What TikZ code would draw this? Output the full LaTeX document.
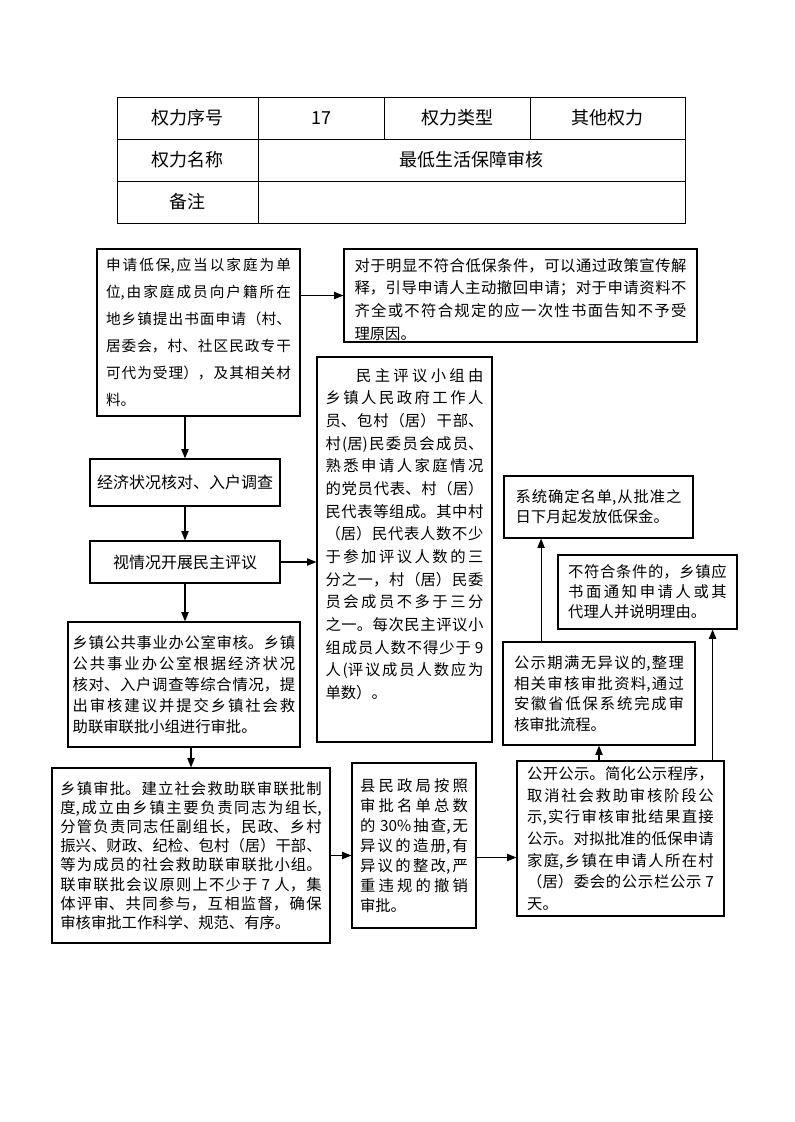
\documentclass[tikz,border=0pt]{standalone}
\usepackage{fontspec}
\setmainfont{Noto Sans CJK SC}
\usetikzlibrary{arrows.meta, positioning, calc}
\XeTeXlinebreaklocale "zh"
\XeTeXlinebreakskip=0pt plus 2pt

\begin{document}
\begin{tikzpicture}[x=0.75pt, y=-0.75pt,
  cell/.style={draw, line width=0.6pt, minimum height=31.5pt, inner sep=0pt, font=\fontsize{13.5}{16}\selectfont},
  flowbox/.style={draw, line width=0.9pt, inner sep=0pt, align=justify},
  arr/.style={-{Triangle[length=7pt, width=5.5pt]}, line width=0.8pt}]
  \useasboundingbox (0,0) rectangle (794,1122);

  % Table
  \node[cell, minimum width=105.75pt] (numlabel) at (187.5,118) {权力序号};
  \node[cell, minimum width=94.5pt] (num) at (321,118) {17};
  \node[cell, minimum width=109.5pt] (typelabel) at (457,118) {权力类型};
  \node[cell, minimum width=116.25pt] (type) at (607.5,118) {其他权力};
  \node[cell, minimum width=105.75pt] (namelabel) at (187.5,160) {权力名称};
  \node[cell, minimum width=320.25pt] (name) at (471.5,160) {最低生活保障审核};
  \node[cell, minimum width=105.75pt] (notelabel) at (187.5,202) {备注};
  \node[cell, minimum width=320.25pt] (note) at (471.5,202) {};

  % Application
  \node[flowbox, minimum width=152.25pt, minimum height=125.25pt, text width=138.75pt, font=\fontsize{11}{20.25}\selectfont] (apply) at (198.5,332.5) {
    申请低保,应当以家庭为单\linebreak
    位,由家庭成员向户籍所在\linebreak
    地乡镇提出书面申请（村、\linebreak
    居委会，村、社区民政专干\linebreak
    可代为受理），及其相关材\linebreak
    料。};

  % Not accepted
  \node[flowbox, minimum width=264.75pt, minimum height=69.75pt, text width=249pt, font=\fontsize{11.5}{17}\selectfont] (notice) at (520.5,295.5) {
    \rule{0pt}{15.5pt}对于明显不符合低保条件，可以通过政策宣传解\linebreak
    释，引导申请人主动撤回申请；对于申请资料不\linebreak
    齐全或不符合规定的应一次性书面告知不予受\linebreak
    理原因。};

  % Check and review
  \node[flowbox, align=center, minimum width=142.5pt, minimum height=35.25pt, font=\fontsize{12}{14}\selectfont] (check) at (185,482.5) {经济状况核对、入户调查};
  \node[flowbox, align=center, minimum width=142.5pt, minimum height=31.5pt, font=\fontsize{12}{14}\selectfont] (review) at (185,562) {视情况开展民主评议};

  % Review group
  \node[flowbox, minimum width=131.25pt, minimum height=288.75pt, text width=118.5pt, font=\fontsize{11.5}{17}\selectfont] (group) at (404.5,549.5) {
    \hspace*{2em}民主评议小组由\linebreak
    乡镇人民政府工作人\linebreak
    员、包村（居）干部、\linebreak
    村(居)民委员会成员、\linebreak
    熟悉申请人家庭情况\linebreak
    的党员代表、村（居）\linebreak
    民代表等组成。其中村\linebreak
    （居）民代表人数不少\linebreak
    于参加评议人数的三\linebreak
    分之一，村（居）民委\linebreak
    员会成员不多于三分\linebreak
    之一。每次民主评议小\linebreak
    组成员人数不得少于 9\linebreak
    人(评议成员人数应为\linebreak
    单数）。\rule[-24pt]{0pt}{24pt}};

  % Town office
  \node[flowbox, minimum width=174pt, minimum height=93.75pt, text width=167pt, font=\fontsize{11.5}{15.75}\selectfont] (office) at (184,684.5) {
    乡镇公共事业办公室审核。乡镇\linebreak
    公共事业办公室根据经济状况\linebreak
    核对、入户调查等综合情况，提\linebreak
    出审核建议并提交乡镇社会救\linebreak
    助联审联批小组进行审批。};

  % Town approval
  \node[flowbox, minimum width=208.5pt, minimum height=131.25pt, text width=196pt, font=\fontsize{11.5}{14.4}\selectfont] (town) at (191,855.5) {
    乡镇审批。建立社会救助联审联批制\linebreak
    度,成立由乡镇主要负责同志为组长,\linebreak
    分管负责同志任副组长，民政、乡村\linebreak
    振兴、财政、纪检、包村（居）干部、\linebreak
    等为成员的社会救助联审联批小组。\linebreak
    联审联批会议原则上不少于 7 人，集\linebreak
    体评审、共同参与，互相监督，确保\linebreak
    审核审批工作科学、规范、有序。};

  % County check
  \node[flowbox, minimum width=93pt, minimum height=123.75pt, text width=81pt, font=\fontsize{11.5}{15}\selectfont] (county) at (414,845.5) {
    县民政局按照\linebreak
    审批名单总数\linebreak
    的 30\%抽查,无\linebreak
    异议的造册,有\linebreak
    异议的整改,严\linebreak
    重违规的撤销\linebreak
    审批。};

  % Publicity
  \node[flowbox, minimum width=155.25pt, minimum height=116.25pt, text width=140pt, font=\fontsize{11.5}{16.25}\selectfont] (public) at (620.5,838.5) {
    公开公示。简化公示程序，\linebreak
    取消社会救助审核阶段公\linebreak
    示,实行审核审批结果直接\linebreak
    公示。对拟批准的低保申请\linebreak
    家庭,乡镇在申请人所在村\linebreak
    （居）委会的公示栏公示 7\linebreak
    天。};

  % Results
  \node[flowbox, minimum width=144pt, minimum height=77.25pt, text width=127.5pt, font=\fontsize{11.5}{15.5}\selectfont] (expire) at (599,693.5) {
    公示期满无异议的,整理\linebreak
    相关审核审批资料,通过\linebreak
    安徽省低保系统完成审\linebreak
    核审批流程。};
  \node[flowbox, minimum width=134.25pt, minimum height=55.5pt, text width=119pt, font=\fontsize{11.5}{15}\selectfont] (reject) at (647.5,592) {
    不符合条件的，乡镇应\linebreak
    书面通知申请人或其\linebreak
    代理人并说明理由。};
  \node[flowbox, minimum width=141.75pt, minimum height=46.5pt, text width=124.5pt, font=\fontsize{11.5}{15}\selectfont] (system) at (598.5,507) {
    系统确定名单,从批准之\linebreak
    日下月起发放低保金。};

  % Arrows
  \draw[arr] (apply.east |- notice.west) -- (notice.west);
  \draw[arr] (apply.south -| check.north) -- (check.north);
  \draw[arr] (check) -- (review);
  \draw[arr] (review.east) -- (review.east -| group.west);
  \draw[arr] (review.south) -- (review.south |- office.north);
  \draw[arr] (office.south -| town.north) -- (town.north);
  \draw[arr] (town.east) -- (town.east -| county.west);
  \draw[arr] ([yshift=-9pt]county.east) -- ([yshift=-9pt]county.east -| public.west);
  \draw[arr] (public.north -| expire.south) -- (expire.south);
  \draw[arr] ([xshift=-9pt]public.north east) -- ([xshift=-9pt]public.north east |- reject.south);
  \draw[arr] ([xshift=29pt]expire.north west) -- ([xshift=29pt]expire.north west |- system.south);
\end{tikzpicture}
\end{document}
